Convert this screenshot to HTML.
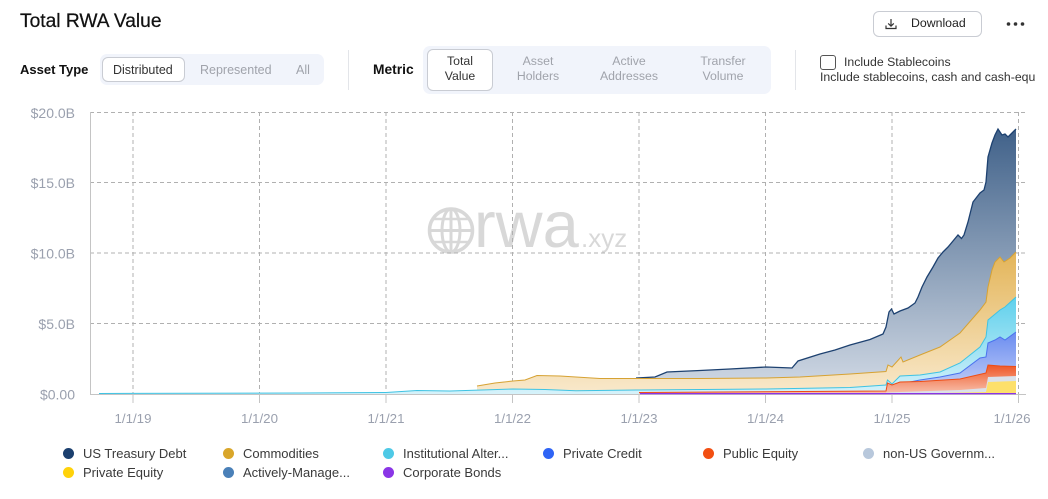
<!DOCTYPE html>
<html><head><meta charset="utf-8"><style>
*{margin:0;padding:0;box-sizing:border-box}
body{width:1048px;height:499px;background:#fff;position:relative;overflow:hidden;font-family:"Liberation Sans",sans-serif;color:#222}
.abs{position:absolute;white-space:nowrap}
.seg{position:absolute;background:#f1f4fb;border-radius:7px}
.btn{position:absolute;background:#fff;border:1px solid #c9ccd3;border-radius:6px}
.g{color:#a0a3ab}
.c2{position:absolute;text-align:center;font-size:12.3px;line-height:15px}
.leg{position:absolute;font-size:13px;color:#3a3a3a;white-space:nowrap;line-height:16px}
.leg i{position:absolute;left:-20px;top:2.5px;width:11px;height:11px;border-radius:50%}
</style></head><body>
<div class="abs" style="left:20px;top:11px;font-size:19.2px;color:#111;-webkit-text-stroke:0.25px #111">Total RWA Value</div>

<div class="btn" style="left:873px;top:11px;width:109px;height:26px"></div>
<svg class="abs" style="left:884px;top:17px" width="14" height="14" viewBox="0 0 14 14"><path d="M7 2v7M4.2 6.4L7 9.2l2.8-2.8M2 8.5v3h10v-3" fill="none" stroke="#333" stroke-width="1.2"/></svg>
<div class="abs" style="left:911px;top:16px;font-size:12.3px;color:#222">Download</div>
<svg class="abs" style="left:1006px;top:21px" width="22" height="6"><circle cx="2.5" cy="3" r="1.8" fill="#333"/><circle cx="9.5" cy="3" r="1.8" fill="#333"/><circle cx="16.5" cy="3" r="1.8" fill="#333"/></svg>

<div class="abs" style="left:20px;top:62px;font-size:13px;font-weight:bold;color:#111">Asset Type</div>
<div class="seg" style="left:100px;top:54px;width:224px;height:31px"></div>
<div class="btn" style="left:102px;top:57px;width:83px;height:25px"></div>
<div class="abs" style="left:113px;top:62.5px;font-size:12.5px;color:#333">Distributed</div>
<div class="abs g" style="left:200px;top:62.5px;font-size:12.5px">Represented</div>
<div class="abs g" style="left:296px;top:62.5px;font-size:12.5px">All</div>

<div class="abs" style="left:348px;top:50px;width:1px;height:40px;background:#e3e5e9"></div>

<div class="abs" style="left:373px;top:62px;font-size:13.8px;font-weight:bold;color:#111">Metric</div>
<div class="seg" style="left:423px;top:46px;width:348px;height:48px"></div>
<div class="btn" style="left:427px;top:49px;width:66px;height:42px"></div>
<div class="c2" style="left:427px;top:54px;width:66px;color:#333">Total<br>Value</div>
<div class="c2 g" style="left:503px;top:54px;width:70px">Asset<br>Holders</div>
<div class="c2 g" style="left:589px;top:54px;width:80px">Active<br>Addresses</div>
<div class="c2 g" style="left:683px;top:54px;width:80px">Transfer<br>Volume</div>

<div class="abs" style="left:795px;top:50px;width:1px;height:40px;background:#e3e5e9"></div>

<div class="abs" style="left:820px;top:55px;width:16px;height:15px;border:1.3px solid #555;border-radius:3px"></div>
<div class="abs" style="left:844px;top:54.5px;font-size:12.3px;color:#333">Include Stablecoins</div>
<div class="abs" style="left:820px;top:70px;width:216px;overflow:hidden;font-size:12.3px;color:#333">Include stablecoins, cash and cash-equivalents</div>

<svg class="abs" style="left:0;top:0" width="1048" height="499">
<defs>
<linearGradient id="gT" gradientUnits="userSpaceOnUse" x1="0" y1="120" x2="0" y2="394"><stop offset="0" stop-color="#3b5d86"/><stop offset="1" stop-color="#d3dbe6"/></linearGradient>
<linearGradient id="gC" gradientUnits="userSpaceOnUse" x1="0" y1="250" x2="0" y2="394"><stop offset="0" stop-color="#e3b457"/><stop offset="1" stop-color="#f9e9cc"/></linearGradient>
<linearGradient id="gI" gradientUnits="userSpaceOnUse" x1="0" y1="297" x2="0" y2="394"><stop offset="0" stop-color="#5fd0ec"/><stop offset="1" stop-color="#d6f2fa"/></linearGradient>
<linearGradient id="gB" gradientUnits="userSpaceOnUse" x1="0" y1="332" x2="0" y2="394"><stop offset="0" stop-color="#6a8cf0"/><stop offset="1" stop-color="#c9d4f8"/></linearGradient>
<linearGradient id="gR" gradientUnits="userSpaceOnUse" x1="0" y1="366" x2="0" y2="394"><stop offset="0" stop-color="#ef5a2a"/><stop offset="1" stop-color="#f8c2ae"/></linearGradient>
</defs>

<!-- watermark -->
<g opacity="0.9">
<circle cx="451" cy="230.5" r="21.5" fill="none" stroke="#d4d4d4" stroke-width="3.5"/>
<ellipse cx="451" cy="230.5" rx="9" ry="21.5" fill="none" stroke="#d4d4d4" stroke-width="3"/>
<line x1="451" y1="209" x2="451" y2="252" stroke="#d4d4d4" stroke-width="3"/>
<line x1="430" y1="230.5" x2="472" y2="230.5" stroke="#d4d4d4" stroke-width="3"/>
<line x1="434" y1="219" x2="468" y2="219" stroke="#d4d4d4" stroke-width="2.5"/>
<line x1="434" y1="242" x2="468" y2="242" stroke="#d4d4d4" stroke-width="2.5"/>
<text x="474" y="247" font-size="65" fill="#d4d4d4" font-family="Liberation Sans, sans-serif">rwa</text>
<text x="581" y="247" font-size="26" fill="#d4d4d4" font-family="Liberation Sans, sans-serif">.xyz</text>
</g>

<!-- grid -->
<g stroke="#b0b0b0" stroke-width="1" stroke-dasharray="4 3" fill="none">
<line x1="90" y1="112.5" x2="1026" y2="112.5"/>
<line x1="90" y1="182.5" x2="1026" y2="182.5"/>
<line x1="90" y1="253" x2="1026" y2="253"/>
<line x1="90" y1="323.5" x2="1026" y2="323.5"/>
<line x1="133" y1="112" x2="133" y2="394"/>
<line x1="259.5" y1="112" x2="259.5" y2="394"/>
<line x1="386" y1="112" x2="386" y2="394"/>
<line x1="512.5" y1="112" x2="512.5" y2="394"/>
<line x1="639" y1="112" x2="639" y2="394"/>
<line x1="765.5" y1="112" x2="765.5" y2="394"/>
<line x1="892" y1="112" x2="892" y2="394"/>
<line x1="1018.5" y1="112" x2="1018.5" y2="394"/>
</g>
<g stroke="#c4c4c4" stroke-width="1">
<line x1="90.5" y1="112" x2="90.5" y2="394.5"/>
<line x1="90" y1="394.5" x2="1026" y2="394.5"/>
<line x1="133" y1="394" x2="133" y2="403"/>
<line x1="259.5" y1="394" x2="259.5" y2="403"/>
<line x1="386" y1="394" x2="386" y2="403"/>
<line x1="512.5" y1="394" x2="512.5" y2="403"/>
<line x1="639" y1="394" x2="639" y2="403"/>
<line x1="765.5" y1="394" x2="765.5" y2="403"/>
<line x1="892" y1="394" x2="892" y2="403"/>
<line x1="1018.5" y1="394" x2="1018.5" y2="403"/>
</g>

<!-- series -->
<path d="M636,378 L655,377 L667,372 L700,370.5 L730,369 L766,367 L792,368 L798,361 L820,354 L835,350 L850,345 L870,339.5 L883,334 L886,327 L889,312 L891.5,309 L894,314 L900,311 L908,308 L915,303 L918,297 L922,287 L927,277 L933,267 L938,258 L943,252 L948,247 L953,241 L958,235 L961.5,238.5 L964,235 L968,222 L973,202 L980,193 L984,190 L986,182 L988,157 L992,143 L995,135 L998,129 L1002,135 L1005,134 L1008,137 L1012,133 L1016,129 L1016,394 L636,394 Z" fill="url(#gT)"/>
<path d="M636,378 L655,377 L667,372 L700,370.5 L730,369 L766,367 L792,368 L798,361 L820,354 L835,350 L850,345 L870,339.5 L883,334 L886,327 L889,312 L891.5,309 L894,314 L900,311 L908,308 L915,303 L918,297 L922,287 L927,277 L933,267 L938,258 L943,252 L948,247 L953,241 L958,235 L961.5,238.5 L964,235 L968,222 L973,202 L980,193 L984,190 L986,182 L988,157 L992,143 L995,135 L998,129 L1002,135 L1005,134 L1008,137 L1012,133 L1016,129" fill="none" stroke="#1d4170" stroke-width="1.3"/>

<path d="M477,386 L495,383 L513,381 L525,380 L537,375.5 L560,376 L600,378.5 L640,378.5 L700,378.5 L766,378 L800,377 L850,374 L886,371.5 L888,365 L892,367 L901,357 L903,362 L920,355 L940,347 L960,333 L980,310 L986,302 L988,287 L992,270 L995,262 L1000,257 L1004,262 L1010,258 L1016,252 L1016,394 L477,394 Z" fill="url(#gC)"/>
<path d="M477,386 L495,383 L513,381 L525,380 L537,375.5 L560,376 L600,378.5 L640,378.5 L700,378.5 L766,378 L800,377 L850,374 L886,371.5 L888,365 L892,367 L901,357 L903,362 L920,355 L940,347 L960,333 L980,310 L986,302 L988,287 L992,270 L995,262 L1000,257 L1004,262 L1010,258 L1016,252" fill="none" stroke="#d6a233" stroke-width="1"/>

<path d="M99,393.5 L300,393 L386,392.5 L417,390.5 L450,391 L513,389 L545,389.5 L576,390.7 L640,390 L766,389 L850,387.5 L886,385 L887.5,380 L892,384 L900,376 L920,375 L940,372 L960,363 L980,347 L986,337 L988,320 L1000,310 L1005,307 L1016,297 L1016,394 L99,394 Z" fill="url(#gI)"/>
<path d="M99,393.5 L300,393 L386,392.5 L417,390.5 L450,391 L513,389 L545,389.5 L576,390.7 L640,390 L766,389 L850,387.5 L886,385 L887.5,380 L892,384 L900,376 L920,375 L940,372 L960,363 L980,347 L986,337 L988,320 L1000,310 L1005,307 L1016,297" fill="none" stroke="#3fc3e3" stroke-width="1"/>

<path d="M886,392 L887.5,388 L900,384 L920,380 L940,377 L960,373 L980,358 L986,357 L988,343 L995,340 L1000,337 L1005,340 L1016,332 L1016,394 L886,394 Z" fill="url(#gB)"/>
<path d="M886,392 L887.5,388 L900,384 L920,380 L940,377 L960,373 L980,358 L986,357 L988,343 L995,340 L1000,337 L1005,340 L1016,332" fill="none" stroke="#4a72ee" stroke-width="1"/>

<path d="M639,392.5 L886,391 L887.5,383 L892,385 L900,382 L920,381.5 L960,379 L986,373 L988,365 L1000,366 L1016,366.5 L1016,394 L639,394 Z" fill="url(#gR)"/>
<path d="M639,392.5 L886,391 L887.5,383 L892,385 L900,382 L920,381.5 L960,379 L986,373 L988,365 L1000,366 L1016,366.5" fill="none" stroke="#ee4c14" stroke-width="1"/>

<path d="M886,392.5 L960,390 L986,388 L988,377 L1016,376 L1016,394 L886,394 Z" fill="#dbe1ea"/>
<path d="M940,393 L986,392 L988,382 L1016,381 L1016,394 L940,394 Z" fill="#fde06a"/>
<line x1="640" y1="393.6" x2="1016" y2="393.6" stroke="#8a35e6" stroke-width="1.2"/>

<!-- labels -->
<g font-family="Liberation Sans, sans-serif" font-size="14" fill="#9aa0ae" text-anchor="end">
<text x="75" y="118">$20.0B</text>
<text x="75" y="188">$15.0B</text>
<text x="75" y="258.5">$10.0B</text>
<text x="75" y="329">$5.0B</text>
<text x="75" y="399.5">$0.00</text>
</g>
<g font-family="Liberation Sans, sans-serif" font-size="13.3" fill="#9aa0ae" text-anchor="middle">
<text x="133" y="423">1/1/19</text>
<text x="259.5" y="423">1/1/20</text>
<text x="386" y="423">1/1/21</text>
<text x="512.5" y="423">1/1/22</text>
<text x="639" y="423">1/1/23</text>
<text x="765.5" y="423">1/1/24</text>
<text x="892" y="423">1/1/25</text>
<text x="1012" y="423">1/1/26</text>
</g>
</svg>

<div class="leg" style="left:83px;top:445.5px"><i style="background:#1b3f6e"></i>US Treasury Debt</div>
<div class="leg" style="left:243px;top:445.5px"><i style="background:#d9a62a"></i>Commodities</div>
<div class="leg" style="left:403px;top:445.5px"><i style="background:#4ec9e6"></i>Institutional Alter...</div>
<div class="leg" style="left:563px;top:445.5px"><i style="background:#2f64f5"></i>Private Credit</div>
<div class="leg" style="left:723px;top:445.5px"><i style="background:#f24f12"></i>Public Equity</div>
<div class="leg" style="left:883px;top:445.5px"><i style="background:#b8c8dc"></i>non-US Governm...</div>
<div class="leg" style="left:83px;top:464.5px"><i style="background:#ffd20a"></i>Private Equity</div>
<div class="leg" style="left:243px;top:464.5px"><i style="background:#4a80b8"></i>Actively-Manage...</div>
<div class="leg" style="left:403px;top:464.5px"><i style="background:#8a35e6"></i>Corporate Bonds</div>
</body></html>
